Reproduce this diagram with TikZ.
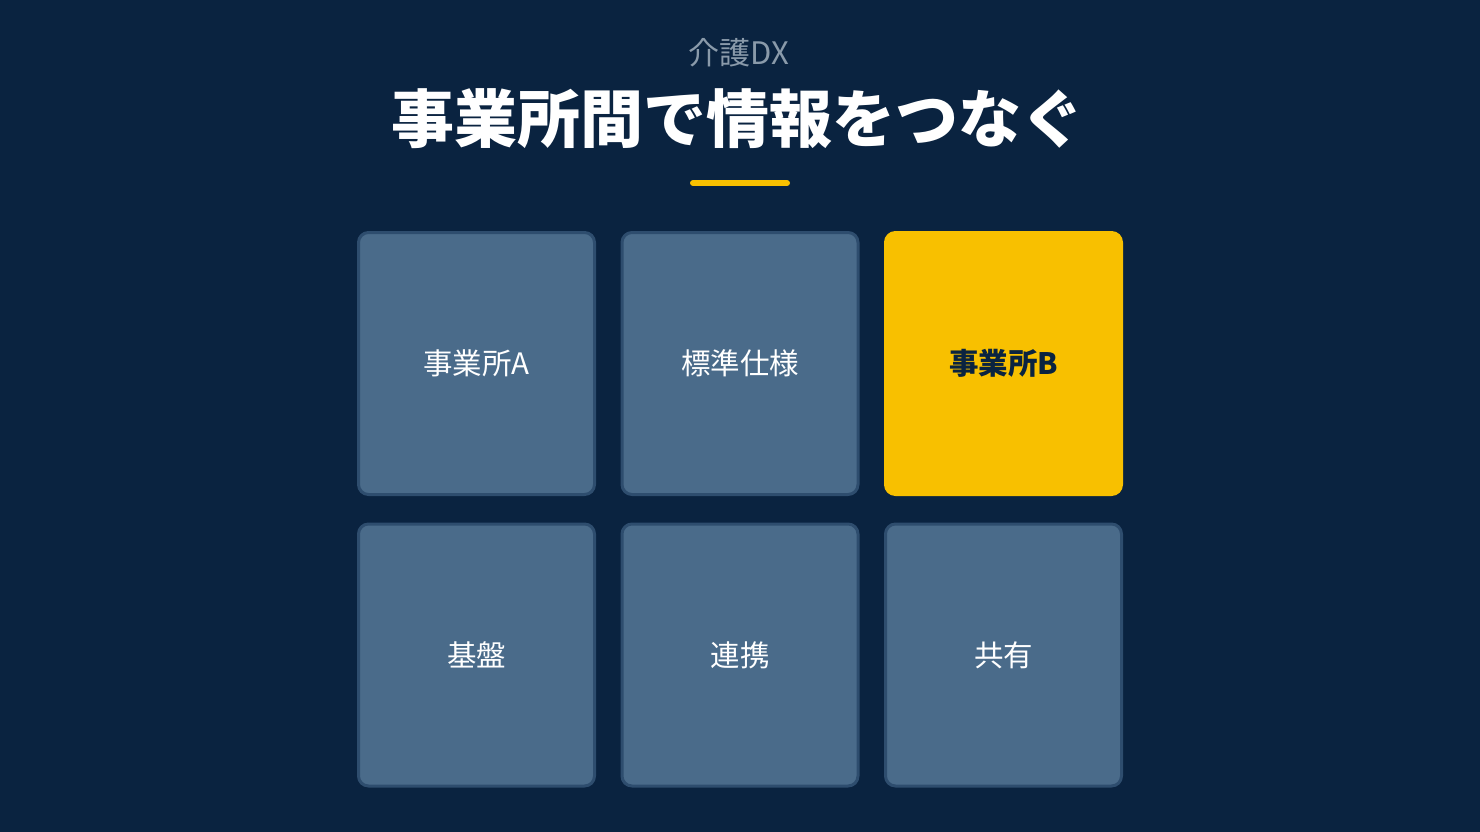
\documentclass[tikz,border=0pt]{standalone}
\usepackage{fontspec}
\setmainfont{Noto Sans CJK JP}
\usetikzlibrary{positioning}
\definecolor{navybg}{HTML}{0A2340}
\definecolor{slatebox}{HTML}{4A6B8A}
\definecolor{slateedge}{HTML}{2E4D6E}
\definecolor{accent}{HTML}{F8C000}
\definecolor{subgray}{HTML}{8A9AAA}
\tikzset{
	tile/.style={draw=slateedge, fill=slatebox, line width=3pt, rounded corners=10pt,
		minimum width=236pt, minimum height=262pt, text=white, font=\fontsize{29.5}{33}\selectfont},
	hottile/.style={tile, draw=accent, fill=accent, text=navybg, font=\fontsize{29.5}{33}\selectfont\bfseries}
}
\begin{document}
\begin{tikzpicture}[x=1pt, y=-1pt]
	% background
	\fill[navybg] (0,0) rectangle (1480,832);
	\useasboundingbox (0,0) rectangle (1480,832);
	% heading
	\node[text=subgray, font=\fontsize{31}{34}\selectfont] (kicker) at (739,53) {介護DX};
	\node[text=white, font=\fontsize{63}{68}\selectfont\bfseries] (title) at (738,119) {事業所間で情報をつなぐ};
	\draw[accent, line width=6pt, line cap=round] (693,183) -- (787,183);
	% grid of tiles
	\node[tile] (officeA) at (476.5,363.5) {事業所A};
	\node[tile] (spec) at (740,363.5) {標準仕様};
	\node[hottile] (officeB) at (1003.5,363.5) {事業所B};
	\node[tile] (base) at (476.5,655) {基盤};
	\node[tile] (link) at (740,655) {連携};
	\node[tile] (share) at (1003.5,655) {共有};
\end{tikzpicture}
\end{document}
